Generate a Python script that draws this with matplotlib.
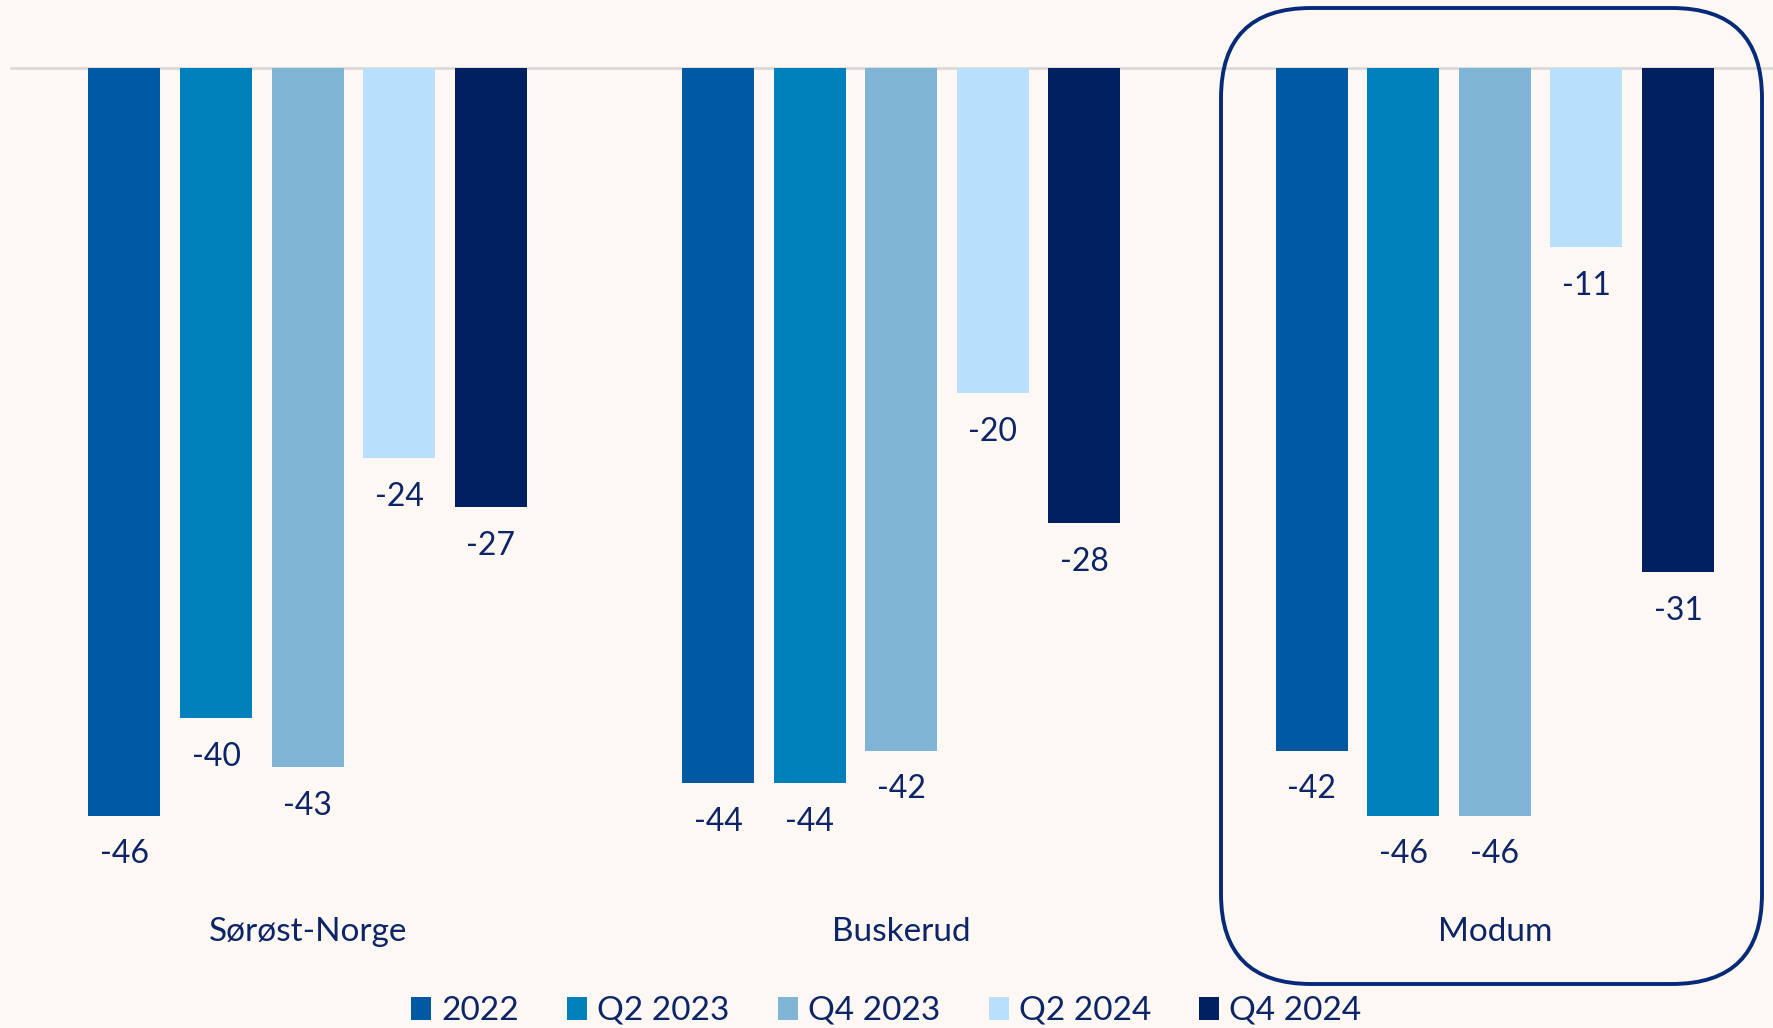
import matplotlib
matplotlib.use("Agg")
import matplotlib.pyplot as plt
from matplotlib.patches import FancyBboxPatch
import numpy as np

categories = ["Sørøst-Norge", "Buskerud", "Modum"]
series = ["2022", "Q2 2023", "Q4 2023", "Q2 2024", "Q4 2024"]
values = {
    "2022":    [-46, -44, -42],
    "Q2 2023": [-40, -44, -46],
    "Q4 2023": [-43, -42, -46],
    "Q2 2024": [-24, -20, -11],
    "Q4 2024": [-27, -28, -31],
}
colors = ["#005aa3", "#0080bb", "#7fb4d4", "#b8dffc", "#00205f"]

BG = "#fdf8f4"
TXT = "#0d2566"
plt.rcParams['font.family'] = ['Lato', 'DejaVu Sans']

W, H = 1773, 1028
fig = plt.figure(figsize=(W / 100, H / 100), dpi=100, facecolor=BG)
ax = fig.add_axes([0, 0, 1, 1])
ax.set_facecolor(BG)

gp = 593.6
x0 = 307.6
ppu = 16.25
zero_y = 68
ax.set_xlim(-x0 / gp, (W - x0) / gp)
ax.set_ylim(-(H - zero_y) / ppu, zero_y / ppu)
ax.axis("off")

ax.axhline(0, xmin=11 / W, xmax=1, color="#d9d6d3", lw=1.8, zorder=1)

bw = 72 / gp
pitch = 91.6 / gp
x = np.arange(len(categories))
for i, s in enumerate(series):
    off = (i - 2) * pitch
    ax.bar(x + off, values[s], width=bw, color=colors[i], label=s, zorder=2)
    for xi, v in zip(x + off, values[s]):
        ax.annotate(f"{v}", (xi, v), xytext=(0, -28), textcoords="offset points",
                    ha="center", va="center", fontsize=23, color=TXT)

for xi, c in zip(x, categories):
    ax.text(xi, -(932 - zero_y) / ppu, c, ha="center", va="center", fontsize=24, color=TXT)

leg = ax.legend(loc="center", bbox_to_anchor=(0.5, 1 - 1011 / H), ncol=5, frameon=False,
                fontsize=24, handlelength=0.6, handleheight=0.7, handletextpad=0.3,
                columnspacing=1.45, labelcolor=TXT)

# rounded box around Modum
ov = fig.add_axes([0, 0, 1, 1], facecolor="none")
ov.set_xlim(0, W)
ov.set_ylim(H, 0)
ov.axis("off")
box = FancyBboxPatch((1221, 8), 1762 - 1221, 984 - 8,
                     boxstyle="round,pad=0,rounding_size=90",
                     fill=False, edgecolor="#062a78", lw=2.8, zorder=5)
ov.add_patch(box)

fig.savefig("out.png", dpi=100, facecolor=BG)
